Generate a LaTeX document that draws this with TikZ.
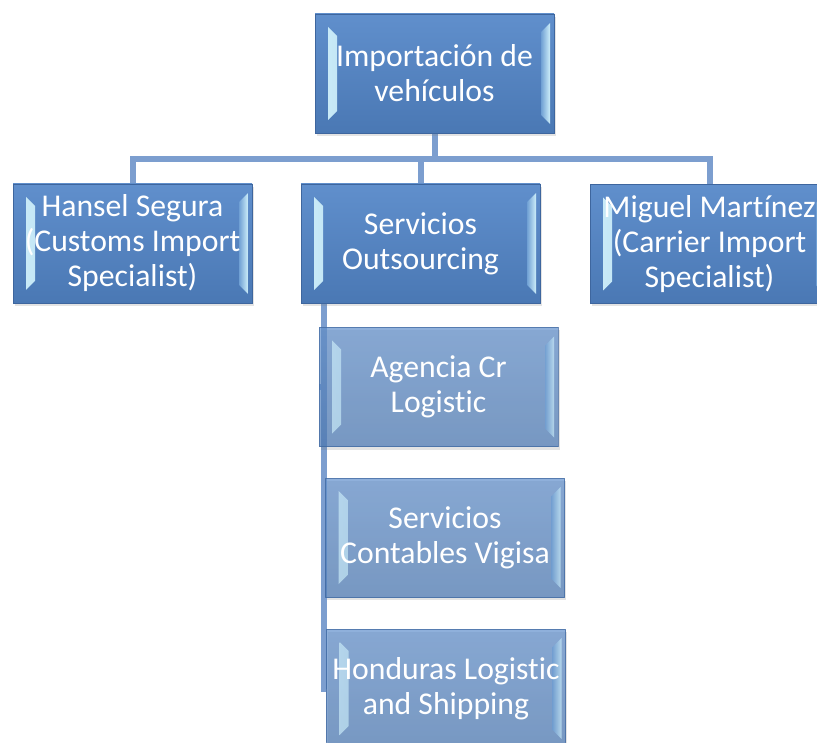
\documentclass[tikz,border=0pt]{standalone}
\usepackage{fontspec}
\setmainfont{Carlito}[Ligatures=NoCommon]
\usetikzlibrary{calc,shadows,backgrounds}
\definecolor{boxtop}{RGB}{96,143,204}
\definecolor{boxbot}{RGB}{74,120,180}
\definecolor{boxedge}{RGB}{62,102,158}
\definecolor{lineblue}{RGB}{124,158,207}
\definecolor{bevlight}{RGB}{205,238,249}
\definecolor{bevmid}{RGB}{112,160,212}
\newcommand\boxfont{\fontsize{31.7}{35}\selectfont}
\tikzset{
  bevbox/.style={rectangle, minimum width=239pt, minimum height=119pt, inner sep=0pt,
    draw=boxedge, line width=0.6pt, top color=boxtop, bottom color=boxbot,
    text=white, font=\boxfont, align=center,
    drop shadow={shadow xshift=1.5pt, shadow yshift=-3pt, opacity=0.22},
    path picture={
      \shade[left color=bevlight, right color=bevmid]
        ($(path picture bounding box.north west)+(13pt,-13pt)$) --
        ($(path picture bounding box.north west)+(22pt,-22pt)$) --
        ($(path picture bounding box.south west)+(22pt,22pt)$) --
        ($(path picture bounding box.south west)+(13pt,13pt)$) -- cycle;
      \shade[left color=bevmid, right color=bevlight]
        ($(path picture bounding box.north east)+(-4pt,-9pt)$) --
        ($(path picture bounding box.north east)+(-13pt,-18pt)$) --
        ($(path picture bounding box.south east)+(-13pt,18pt)$) --
        ($(path picture bounding box.south east)+(-4pt,9pt)$) -- cycle;
    }},
  subbox/.style={bevbox, fill opacity=0.7, text opacity=1, draw opacity=0.7},
  conn/.style={draw=lineblue, line width=6pt}
}
\begin{document}
\begin{tikzpicture}[x=1pt,y=-1pt]
\useasboundingbox (0,0) rectangle (817,743);
\node[bevbox] (top) at (434.5,73.5) {Importación de\\vehículos};
\node[bevbox] (hansel) at (132.5,243.5) {Hansel Segura\\(Customs Import\\Specialist)};
\node[bevbox] (serv) at (420.5,243.5) {Servicios\\Outsourcing};
\node[bevbox] (miguel) at (709.5,244) {Miguel Martínez\\(Carrier Import\\Specialist)};
\node[subbox] (agencia) at (438.5,387) {Agencia Cr\\Logistic};
\node[subbox] (vigisa) at (445,537.5) {Servicios\\Contables Vigisa};
\node[subbox] (hond) at (446,688.5) {Honduras Logistic\\and Shipping};
\coordinate (bar) at (0,159);
\coordinate (trunk) at ($(serv.south west)+(23,0)$);
\begin{scope}[on background layer]
  \draw[conn] (top.south) -- (top.south |- bar) -| (hansel.north);
  \draw[conn] (top.south) -- (top.south |- bar) -| (serv.north);
  \draw[conn] (top.south) -- (top.south |- bar) -| (miguel.north);
  \draw[conn] (trunk) |- (agencia.west);
  \draw[conn] (trunk) |- (vigisa.west);
  \draw[conn] (trunk) |- (hond.west);
\end{scope}
\end{tikzpicture}
\end{document}
